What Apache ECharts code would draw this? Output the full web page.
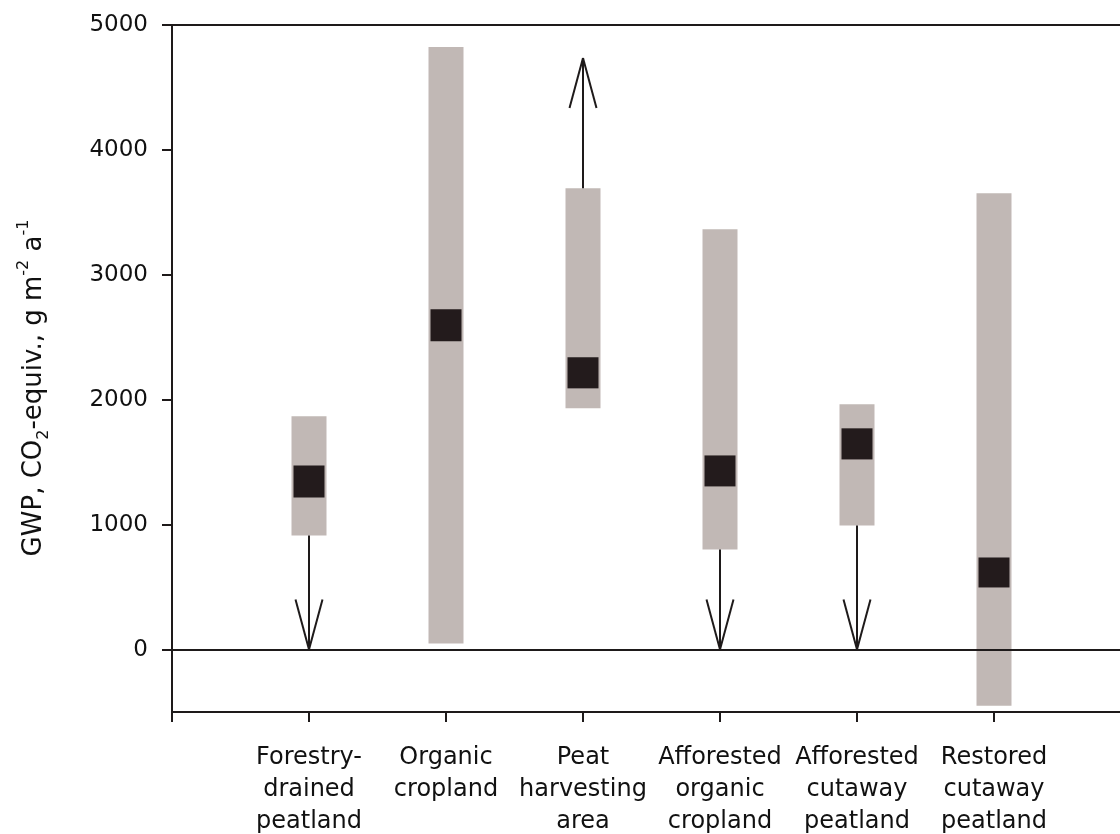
<!DOCTYPE html>
<html>
<head>
<meta charset="utf-8">
<script src="https://cdn.jsdelivr.net/npm/echarts@6/dist/echarts.min.js"></script>
<style>html,body{margin:0;padding:0;background:#fff;}#main{width:1120px;height:834px;}</style>
</head>
<body>
<div id="main"></div>
<script>
const categories = ['Forestry-\ndrained\npeatland','Organic\ncropland','Peat\nharvesting\narea','Afforested\norganic\ncropland','Afforested\ncutaway\npeatland','Restored\ncutaway\npeatland'];
const positions = [1, 2, 3, 4, 5, 6];
const rangeLow  = [913, 48, 1931, 801, 994, -449];
const rangeHigh = [1867, 4824, 3694, 3365, 1963, 3654];
const medianLow  = [1218, 2468, 2091, 1306, 1522, 497];
const medianHigh = [1474, 2724, 2340, 1554, 1771, 737];
const arrowFrom = [913, null, 3694, 801, 994, null];
const arrowTo   = [0, null, 4736, 0, 0, null];
const yTicks = [0, 1000, 2000, 3000, 4000, 5000];
const xTicks = [0, 1, 2, 3, 4, 5, 6, 7];

const barData = positions.map((p, i) => [p, rangeLow[i], rangeHigh[i], medianLow[i], medianHigh[i]]);
const arrowData = [];
positions.forEach((p, i) => { if (arrowFrom[i] !== null) arrowData.push([p, arrowFrom[i], arrowTo[i]]); });

const chart = echarts.init(document.getElementById('main'), null, {renderer: 'canvas'});
const ink = '#1e1a1a';
chart.setOption({
  animation: false,
  backgroundColor: '#fff',
  grid: {left: 172, top: 25, width: 959, height: 687, containLabel: false, outerBoundsMode: 'none', show: true, borderColor: ink, borderWidth: 2, backgroundColor: 'transparent'},
  graphic: [{
    type: 'text', x: 34, y: 388, rotation: Math.PI / 2,
    style: {
      text: 'GWP, CO{sub|2}-equiv., g m{sup|-2} a{sup|-1}',
      fontFamily: 'DejaVu Sans', fontSize: 26, fill: '#111', align: 'center', verticalAlign: 'middle', lineHeight: 36,
      rich: {
        sub: {fontFamily: 'DejaVu Sans', fontSize: 16, fill: '#111', verticalAlign: 'bottom', lineHeight: 14},
        sup: {fontFamily: 'DejaVu Sans', fontSize: 16, fill: '#111', verticalAlign: 'top', lineHeight: 14}
      }
    }
  }],
  xAxis: {
    type: 'value', min: 0, max: 7,
    splitLine: {show: false},
    axisLine: {show: true, onZero: false, lineStyle: {color: ink, width: 2}},
    axisTick: {show: true, length: 10, lineStyle: {color: ink, width: 2}, customValues: xTicks},
    axisLabel: {
      customValues: positions,
      formatter: v => categories[Math.round(v) - 1] || '',
      fontFamily: 'DejaVu Sans', fontSize: 24, lineHeight: 32, color: '#111', margin: 30
    }
  },
  yAxis: {
    type: 'value', min: -500, max: 5000,
    splitLine: {show: false},
    axisLine: {show: true, onZero: false, lineStyle: {color: ink, width: 2}},
    axisTick: {show: true, length: 10, lineStyle: {color: ink, width: 2}, customValues: yTicks},
    axisLabel: {customValues: yTicks, formatter: v => String(v), fontFamily: 'DejaVu Sans', fontSize: 23, color: '#111', margin: 24}
  },
  series: [
    {
      type: 'custom', z: 2,
      data: barData,
      renderItem: function (params, api) {
        const x = api.value(0);
        const p1 = api.coord([x, api.value(2)]);
        const p2 = api.coord([x, api.value(1)]);
        const q1 = api.coord([x, api.value(4)]);
        const q2 = api.coord([x, api.value(3)]);
        return {
          type: 'group',
          children: [
            {type: 'rect', shape: {x: p1[0] - 17.5, y: p1[1], width: 35, height: p2[1] - p1[1]}, style: {fill: '#c1b8b5'}},
            {type: 'rect', shape: {x: q1[0] - 15.5, y: q1[1], width: 31, height: q2[1] - q1[1]}, style: {fill: '#231b1c'}}
          ]
        };
      }
    },
    {
      type: 'custom', z: 3,
      data: arrowData,
      renderItem: function (params, api) {
        const x = api.value(0);
        const a = api.coord([x, api.value(1)]);
        const b = api.coord([x, api.value(2)]);
        const dir = b[1] > a[1] ? 1 : -1;
        const hl = 50, hw = 13.5;
        const st = {stroke: ink, lineWidth: 2};
        return {
          type: 'group',
          children: [
            {type: 'line', shape: {x1: a[0], y1: a[1], x2: b[0], y2: b[1]}, style: st},
            {type: 'line', shape: {x1: b[0] - hw, y1: b[1] - dir * hl, x2: b[0], y2: b[1]}, style: st},
            {type: 'line', shape: {x1: b[0] + hw, y1: b[1] - dir * hl, x2: b[0], y2: b[1]}, style: st}
          ]
        };
      },
      markLine: {
        silent: true, symbol: ['none', 'none'], label: {show: false},
        lineStyle: {color: ink, width: 2, type: 'solid'},
        data: [{yAxis: 0}]
      }
    }
  ]
});
</script>
</body>
</html>
